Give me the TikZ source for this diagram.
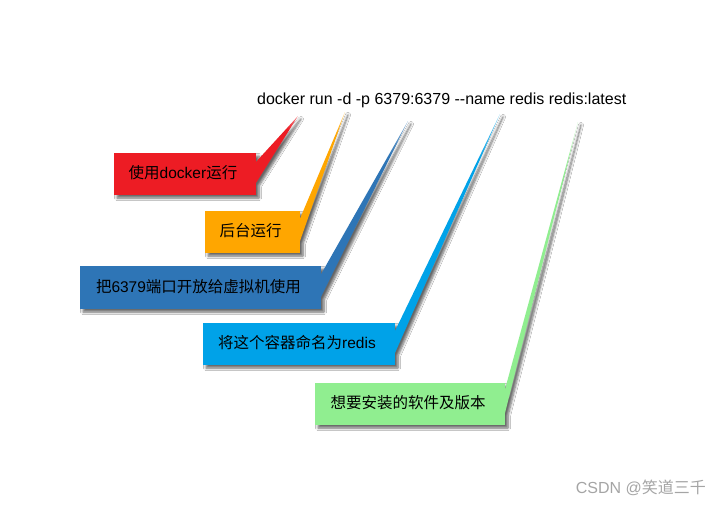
\documentclass[tikz,border=0pt]{standalone}
\usepackage{fontspec}
\setmainfont{Liberation Sans}
\newfontfamily\cjk{Noto Sans CJK SC}
\usetikzlibrary{shadows.blur}
\definecolor{cred}{RGB}{237,28,36}
\definecolor{corange}{RGB}{255,166,0}
\definecolor{cdblue}{RGB}{46,117,182}
\definecolor{ccyan}{RGB}{0,162,232}
\definecolor{cgreen}{RGB}{144,238,144}
\definecolor{wmgrey}{RGB}{165,165,165}
\colorlet{wc}{cred}
\pgfdeclareverticalshading[wc]{wedgefade}{100bp}{color(0bp)=(wc); color(70bp)=(wc); color(100bp)=(wc!5!white)}
\tikzset{
  boxshadow/.style={blur shadow={shadow xshift=3pt, shadow yshift=-3pt, shadow blur radius=2.5pt, shadow blur steps=6, shadow opacity=60}},
  boxtext/.style={inner sep=0pt, text=black, font=\fontsize{15.5}{18}\selectfont},
}
\newcommand{\mycallout}[9]{%
  % #1 name, #2 colour, #3 x1, #4 y1, #5 x2, #6 y2, #7 tip x, #8 tip y, #9 text
  \colorlet{wc}{#2}%
  \pgfmathsetmacro{\wang}{atan2(((#4+#6-1)/2-#8),(#7-#5))-90}%
  \path[boxshadow] (#3,#4) -- (#5,#4) -- (#5,#4+10) -- (#7,#8) -- (#5,#6-12) -- (#5,#6) -- (#3,#6) -- cycle;
  \fill[#2] (#3,#4) rectangle (#5,#6);
  \shade[shading=wedgefade, shading angle=\wang] (#5-1,#4+10) -- (#7,#8) -- (#5,#6-12) -- (#5-1,#6-12) -- cycle;
  \node[boxtext] (#1) at ({(#3+#5)/2-2},{(#4+#6)/2-1}) {#9};
}
\begin{document}
\begin{tikzpicture}[x=1pt,y=-1pt]
\useasboundingbox[fill=white] (0,0) rectangle (723,506);
\node[anchor=west, inner sep=0pt, font=\fontsize{16}{19}\selectfont] (cmd) at (257,100) {docker run -d -p 6379:6379 -{}-name redis redis:latest};
\mycallout{n1}{cred}{114}{153}{256}{195}{298}{116}{{\cjk 使用}docker{\cjk 运行}}
\mycallout{n2}{corange}{205}{211}{300}{253}{345}{112}{{\cjk 后台运行}}
\mycallout{n3}{cdblue}{80}{266}{321}{309}{408}{121}{{\cjk 把}6379{\cjk 端口开放给虚拟机使用}}
\mycallout{n4}{ccyan}{203}{323}{395}{365}{500}{114}{{\cjk 将这个容器命名为}redis}
\mycallout{n5}{cgreen}{315}{383}{505}{425}{578}{122}{{\cjk 想要安装的软件及版本}}
\node[anchor=east, inner sep=0pt, text=wmgrey, font=\fontsize{16}{19}\selectfont] (wm) at (706,488) {CSDN @{\cjk 笑道三千}};
\end{tikzpicture}
\end{document}
